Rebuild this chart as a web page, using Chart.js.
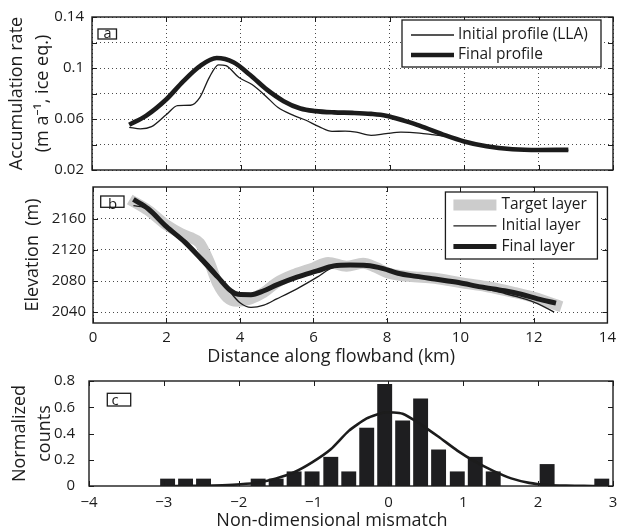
<!DOCTYPE html>
<html>
<head>
<meta charset="utf-8">
<script src="https://cdn.jsdelivr.net/npm/chart.js@4.4.0/dist/chart.umd.min.js"></script>
<style>
  html, body { margin: 0; padding: 0; background: #fff; }
  #figure { position: relative; width: 622px; height: 532px; }
  #figure canvas { position: absolute; left: 0; top: 0; }
</style>
</head>
<body>
<div id="figure">
  <canvas id="panelA" width="622" height="532"></canvas>
  <canvas id="panelB" width="622" height="532"></canvas>
  <canvas id="panelC" width="622" height="532"></canvas>
</div>
<script>
// ---- (a) accumulation rate along the flowband ----
const initialProfileKm   = [1.0, 1.3, 1.6, 2.0, 2.3, 2.65, 2.9, 3.15, 3.4, 3.6, 3.95, 4.3, 4.65, 5.0, 5.4, 5.75, 6.1, 6.45, 6.8, 7.1, 7.5, 7.9, 8.3, 8.8, 9.2, 9.5, 10.0, 10.6, 11.3, 12.0, 12.8];
const initialProfileRate = [0.0535, 0.0523, 0.0540, 0.0635, 0.0705, 0.0708, 0.0770, 0.0925, 0.1025, 0.1018, 0.0925, 0.0870, 0.0785, 0.0690, 0.0630, 0.0590, 0.0540, 0.0503, 0.0505, 0.0497, 0.0472, 0.0485, 0.0497, 0.0490, 0.0475, 0.0465, 0.0420, 0.0382, 0.0360, 0.0354, 0.0355];
const finalProfileKm     = [1.0, 1.45, 2.0, 2.45, 2.9, 3.35, 3.8, 4.25, 4.7, 5.15, 5.6, 6.0, 6.5, 7.0, 7.5, 7.9, 8.4, 8.8, 9.5, 10.0, 10.6, 11.3, 12.0, 12.8];
const finalProfileRate   = [0.0555, 0.0625, 0.0755, 0.0895, 0.1015, 0.1078, 0.1045, 0.0945, 0.0830, 0.0740, 0.0682, 0.0662, 0.0652, 0.0648, 0.0640, 0.0626, 0.0585, 0.0548, 0.0471, 0.0424, 0.0386, 0.0363, 0.0357, 0.0358];
const rateTicks = [0.02, 0.04, 0.06, 0.08, 0.10, 0.12, 0.14];
const rateTickLabels = ['0.02', '', '0.06', '', '0.1', '', '0.14'];

// ---- (b) internal layer elevation ----
const targetLayerKm   = [1.0, 1.5, 2.0, 2.4, 2.65, 2.9, 3.15, 3.4, 3.65, 3.92, 4.28, 4.64, 5.0, 5.5, 6.0, 6.4, 6.9, 7.35, 7.7, 8.05, 8.6, 9.3, 10.0, 10.7, 11.45, 12.0, 12.75];
const targetLayerElev = [2185, 2171, 2152, 2141, 2136, 2129, 2106, 2076, 2059, 2054, 2057, 2065, 2078, 2089, 2097, 2104, 2099, 2103, 2097.5, 2090, 2086, 2083.5, 2078, 2073, 2065.5, 2059, 2047];
const initialLayerKm   = [1.1, 1.5, 2.0, 2.5, 2.9, 3.3, 3.7, 4.0, 4.3, 4.65, 5.0, 5.55, 6.1, 6.45, 7.0, 7.45, 7.9, 8.3, 8.8, 9.3, 10.0, 10.55, 11.2, 11.6, 12.1, 12.55];
const initialLayerElev = [2177, 2173, 2151, 2131, 2114, 2094, 2068, 2052, 2046, 2049, 2057, 2070, 2085, 2095.5, 2101, 2101, 2097, 2091, 2087, 2083, 2077, 2071, 2064, 2059, 2051, 2040];
const finalLayerKm   = [1.1, 1.5, 2.0, 2.5, 2.95, 3.4, 3.75, 3.95, 4.3, 4.65, 5.0, 5.55, 6.1, 6.55, 7.0, 7.45, 7.9, 8.3, 8.8, 9.3, 9.95, 10.55, 11.2, 11.65, 12.1, 12.6];
const finalLayerElev = [2185, 2173, 2150, 2130, 2108, 2085, 2067.5, 2063, 2062.5, 2067.5, 2075, 2085, 2093, 2099.5, 2100.5, 2100, 2096, 2090, 2086, 2082.5, 2078, 2072.5, 2067.5, 2063, 2057, 2051.5];
const elevTicks = [2040, 2080, 2120, 2160];
const distanceTicks = [0, 2, 4, 6, 8, 10, 12, 14];

// ---- (c) histogram of the non-dimensional mismatch ----
const mismatchBins   = [-2.95, -2.71, -2.47, -2.22, -1.98, -1.74, -1.50, -1.26, -1.02, -0.77, -0.53, -0.29, -0.05, 0.19, 0.43, 0.67, 0.92, 1.16, 1.40, 1.64, 1.88, 2.12, 2.37, 2.61, 2.85];
const mismatchCounts = [0.056, 0.056, 0.056, 0, 0, 0.056, 0.056, 0.111, 0.111, 0.222, 0.111, 0.444, 0.778, 0.5, 0.667, 0.278, 0.111, 0.222, 0.111, 0, 0, 0.167, 0, 0, 0.056];
const normalFit      = [0.000, 0.001, 0.002, 0.006, 0.013, 0.027, 0.058, 0.105, 0.180, 0.280, 0.420, 0.515, 0.560, 0.550, 0.470, 0.375, 0.270, 0.185, 0.115, 0.058, 0.024, 0.008, 0.003, 0.001, 0.000];
const mismatchTicks = [-4, -3, -2, -1, 0, 1, 2, 3];
const countTicks = [0, 0.2, 0.4, 0.6, 0.8];

const INK = '#1c1c1c';
const FONT = "'Open Sans', 'Noto Sans', sans-serif";
Chart.defaults.font.family = FONT;
Chart.defaults.color = INK;
Chart.defaults.animation = false;
Chart.defaults.events = [];
Chart.defaults.plugins.legend.display = false;
Chart.defaults.plugins.tooltip.enabled = false;

const pairs = (xs, ys) => xs.map((x, i) => ({ x, y: ys[i] }));
const useTicks = list => scale => { scale.ticks = list.map(v => ({ value: v })); };
const fixWidth = w => scale => { scale.width = w; };
const fixHeight = h => scale => { scale.height = h; };
const signed = v => (v < 0 ? '\u2212' + Math.abs(v) : String(v));

// axes box with inward tick marks on all four sides
const axesBox = {
  id: 'axesBox',
  afterDatasetsDraw(chart) {
    const { ctx, chartArea: a, scales } = chart;
    const len = 5;
    ctx.save();
    ctx.strokeStyle = INK;
    ctx.lineWidth = 1;
    ctx.beginPath();
    scales.x.ticks.forEach(t => {
      const p = Math.round(scales.x.getPixelForValue(t.value)) + 0.5;
      ctx.moveTo(p, a.top); ctx.lineTo(p, a.top + len);
      ctx.moveTo(p, a.bottom); ctx.lineTo(p, a.bottom - len);
    });
    scales.y.ticks.forEach(t => {
      const p = Math.round(scales.y.getPixelForValue(t.value)) + 0.5;
      ctx.moveTo(a.left, p); ctx.lineTo(a.left + len, p);
      ctx.moveTo(a.right, p); ctx.lineTo(a.right - len, p);
    });
    ctx.stroke();
    ctx.lineWidth = 1.4;
    ctx.strokeRect(a.left, a.top, a.right - a.left, a.bottom - a.top);
    ctx.restore();
  }
};

// boxed legend inside the upper right corner of the axes
const boxLegend = {
  id: 'boxLegend',
  afterDraw(chart, args, o) {
    if (!o || !o.width) return;
    const { ctx, chartArea: a } = chart;
    const x0 = a.right - o.right - o.width, y0 = a.top + o.top;
    ctx.save();
    ctx.fillStyle = '#fff';
    ctx.fillRect(x0, y0, o.width, o.height);
    ctx.strokeStyle = INK;
    ctx.lineWidth = 1.3;
    ctx.strokeRect(x0, y0, o.width, o.height);
    ctx.font = o.fontSize + 'px ' + FONT;
    ctx.textBaseline = 'middle';
    o.rows.forEach((di, i) => {
      const d = chart.data.datasets[di];
      const y = y0 + o.first + i * o.gap;
      ctx.strokeStyle = d.borderColor;
      ctx.lineWidth = d.borderWidth;
      ctx.lineCap = 'butt';
      ctx.beginPath();
      ctx.moveTo(x0 + o.sample[0], y);
      ctx.lineTo(x0 + o.sample[1], y);
      ctx.stroke();
      ctx.fillStyle = INK;
      ctx.fillText(d.label, x0 + o.textX, y);
    });
    ctx.restore();
  }
};

// small boxed panel letter
const panelTag = {
  id: 'panelTag',
  afterDraw(chart, args, o) {
    if (!o || !o.text) return;
    const { ctx, chartArea: a } = chart;
    ctx.save();
    ctx.fillStyle = '#fff';
    ctx.fillRect(a.left + o.dx, a.top + o.dy, o.w, o.h);
    ctx.strokeStyle = INK;
    ctx.lineWidth = 1.3;
    ctx.strokeRect(a.left + o.dx, a.top + o.dy, o.w, o.h);
    ctx.fillStyle = INK;
    ctx.font = o.fontSize + 'px ' + FONT;
    ctx.textBaseline = 'alphabetic';
    ctx.fillText(o.text, a.left + o.tx, a.top + o.ty);
    ctx.restore();
  }
};

// x-axis caption below the tick labels
const xCaption = {
  id: 'xCaption',
  afterDraw(chart, args, o) {
    if (!o || !o.text) return;
    const { ctx, chartArea: a } = chart;
    ctx.save();
    ctx.fillStyle = INK;
    ctx.font = o.fontSize + 'px ' + FONT;
    ctx.textAlign = 'center';
    ctx.textBaseline = 'middle';
    ctx.fillText(o.text, (a.left + a.right) / 2 + o.dx, a.bottom + o.dy);
    ctx.restore();
  }
};

const dotted = { color: '#4a4a4a', lineWidth: 1, drawTicks: false };
const tickFont = { size: 15 };
const titleFont = (lh) => ({ size: 18, lineHeight: lh });

// (a)
new Chart(document.getElementById('panelA'), {
  type: 'line',
  data: {
    datasets: [
      { label: 'Initial profile (LLA)', data: pairs(initialProfileKm, initialProfileRate), borderColor: INK, borderWidth: 1.3, pointRadius: 0, cubicInterpolationMode: 'monotone', order: 2 },
      { label: 'Final profile', data: pairs(finalProfileKm, finalProfileRate), borderColor: INK, borderWidth: 4.6, pointRadius: 0, cubicInterpolationMode: 'monotone', order: 1 }
    ]
  },
  options: {
    responsive: false,
    layout: { padding: { top: 15, right: 9, bottom: 362, left: 0 } },
    scales: {
      x: { type: 'linear', min: 0, max: 14, afterBuildTicks: useTicks(distanceTicks), afterFit: fixHeight(0),
           ticks: { display: false }, grid: dotted, border: { display: false, dash: [1, 3] } },
      y: { min: 0.02, max: 0.14, afterBuildTicks: useTicks(rateTicks), afterFit: fixWidth(92),
           ticks: { font: tickFont, padding: 8, callback: (v, i) => rateTickLabels[i] },
           grid: dotted, border: { display: false, dash: [1, 3] },
           title: { display: true, text: ['Accumulation rate', '(m a\u207B\u00B9, ice eq.)'], font: titleFont(26 / 18), padding: { top: 4, bottom: 0 } } }
    },
    plugins: {
      boxLegend: { right: 12, top: 3, width: 199, height: 47, first: 15, gap: 20, sample: [9, 52], textX: 56, fontSize: 15.5, rows: [0, 1] },
      panelTag: { text: 'a', dx: 6, dy: 12, w: 18.5, h: 10, tx: 11.5, ty: 21.3, fontSize: 14.5 }
    }
  },
  plugins: [axesBox, boxLegend, panelTag]
});

// (b)
new Chart(document.getElementById('panelB'), {
  type: 'line',
  data: {
    datasets: [
      { label: 'Target layer', data: pairs(targetLayerKm, targetLayerElev), borderColor: '#cccccc', borderWidth: 11, pointRadius: 0, cubicInterpolationMode: 'monotone', order: 3 },
      { label: 'Initial layer', data: pairs(initialLayerKm, initialLayerElev), borderColor: INK, borderWidth: 1.3, pointRadius: 0, cubicInterpolationMode: 'monotone', order: 2 },
      { label: 'Final layer', data: pairs(finalLayerKm, finalLayerElev), borderColor: INK, borderWidth: 5, pointRadius: 0, cubicInterpolationMode: 'monotone', order: 1 }
    ]
  },
  options: {
    responsive: false,
    layout: { padding: { top: 187, right: 9, bottom: 169, left: 0 } },
    scales: {
      x: { type: 'linear', min: 0, max: 14, afterBuildTicks: useTicks(distanceTicks), afterFit: fixHeight(40),
           ticks: { font: tickFont, padding: 6, maxRotation: 0, callback: v => String(v) }, grid: dotted, border: { display: false, dash: [1, 3] } },
      y: { min: 2026, max: 2201, afterBuildTicks: useTicks(elevTicks), afterFit: fixWidth(93),
           ticks: { font: tickFont, padding: 7, callback: v => String(v) },
           grid: dotted, border: { display: false, dash: [1, 3] },
           title: { display: true, text: 'Elevation  (m)', font: titleFont(26 / 18), padding: { top: 20, bottom: 0 } } }
    },
    plugins: {
      boxLegend: { right: 10, top: 5, width: 152, height: 67, first: 13, gap: 20.8, sample: [8, 51], textX: 56, fontSize: 15.5, rows: [0, 1, 2] },
      panelTag: { text: 'b', dx: 7.7, dy: 9, w: 23.3, h: 11.3, tx: 15, ty: 21.8, fontSize: 15 },
      xCaption: { text: 'Distance along flowband (km)', dx: -19, dy: 34, fontSize: 18 }
    }
  },
  plugins: [axesBox, boxLegend, panelTag, xCaption]
});

// (c)
new Chart(document.getElementById('panelC'), {
  type: 'bar',
  data: {
    datasets: [
      { type: 'bar', data: pairs(mismatchBins, mismatchCounts), backgroundColor: '#1e1e20', borderWidth: 0, barPercentage: 0.83, categoryPercentage: 1, order: 2 },
      { type: 'line', data: pairs(mismatchBins, normalFit), borderColor: INK, borderWidth: 2.6, pointRadius: 0, tension: 0.2, order: 1 }
    ]
  },
  options: {
    responsive: false,
    layout: { padding: { top: 381, right: 9, bottom: 6, left: 0 } },
    scales: {
      x: { type: 'linear', min: -4, max: 3, offset: false, afterBuildTicks: useTicks(mismatchTicks), afterFit: fixHeight(40),
           ticks: { font: tickFont, padding: 0, maxRotation: 0, callback: v => signed(v) },
           grid: { display: false, offset: false }, border: { display: false } },
      y: { min: 0, max: 0.8, afterBuildTicks: useTicks(countTicks), afterFit: fixWidth(89),
           ticks: { font: tickFont, padding: 6, callback: v => String(+v.toFixed(1)) },
           grid: { display: false }, border: { display: false },
           title: { display: true, text: ['Normalized', 'counts'], font: titleFont(25 / 18), padding: { top: 7.5, bottom: 0 } } }
    },
    plugins: {
      panelTag: { text: 'c', dx: 18.3, dy: 12.3, w: 23.4, h: 12.7, tx: 22.5, ty: 24, fontSize: 15 },
      xCaption: { text: 'Non-dimensional mismatch', dx: -19, dy: 35, fontSize: 18 }
    }
  },
  plugins: [axesBox, panelTag, xCaption]
});
</script>
</body>
</html>
